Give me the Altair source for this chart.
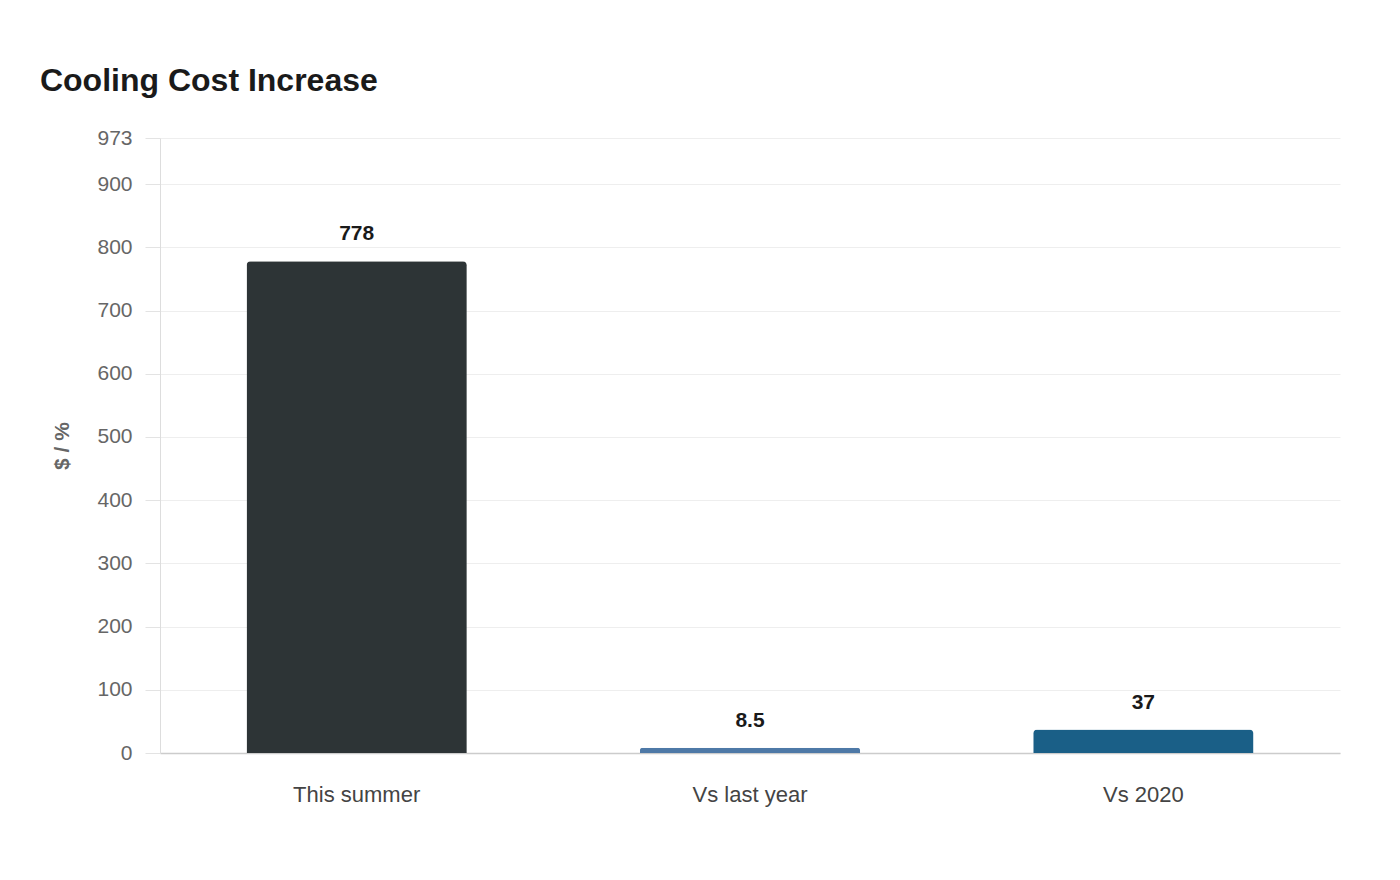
import altair as alt
import pandas as pd

# Cooling cost increase by comparison period
categories = ["This summer", "Vs last year", "Vs 2020"]
values = [778, 8.5, 37]
labels = ["778", "8.5", "37"]
colors = ["#2d3436", "#4e79a7", "#1a5f87"]
y_ticks = [0, 100, 200, 300, 400, 500, 600, 700, 800, 900, 973]

df = pd.DataFrame({"category": categories, "value": values, "label": labels})

FONT = "Liberation Sans"

base = alt.Chart(df).encode(
    x=alt.X(
        "category:N",
        sort=categories,
        title=None,
        scale=alt.Scale(paddingInner=0.44, paddingOuter=0.22),
        axis=alt.Axis(
            labelAngle=0,
            labelFontSize=22,
            labelColor="#444444",
            labelFont=FONT,
            labelPadding=31,
            ticks=False,
            domainColor="#cccccc",
            domainWidth=1.5,
            grid=False,
        ),
    ),
    y=alt.Y(
        "value:Q",
        title="$ / %",
        scale=alt.Scale(domain=[0, 973], nice=False),
        axis=alt.Axis(
            values=y_ticks,
            labelFontSize=21,
            labelColor="#666666",
            labelFont=FONT,
            labelPadding=13,
            tickSize=15,
            tickColor="#e3e3e3",
            domainColor="#dddddd",
            gridColor="#eeeeee",
            titleFont=FONT,
            titleFontSize=21,
            titleFontWeight="bold",
            titleColor="#666666",
            titlePadding=24,
        ),
    ),
)

bars = base.mark_bar(cornerRadiusTopLeft=4, cornerRadiusTopRight=4).encode(
    color=alt.Color("category:N", scale=alt.Scale(domain=categories, range=colors), legend=None)
)

text = base.mark_text(
    baseline="bottom", dy=-17, fontSize=21, fontWeight="bold", font=FONT, color="#1a1a1a"
).encode(text="label:N")

chart = (
    (bars + text)
    .properties(
        width=1180,
        height=615,
        autosize=alt.AutoSizeParams(type="none"),
        padding={"left": 152, "top": 130, "right": 52, "bottom": 100},
        title=alt.TitleParams(
            "Cooling Cost Increase",
            anchor="start",
            dx=-12,
            offset=29,
            font=FONT,
            fontSize=32,
            fontWeight="bold",
            color="#1a1a1a",
        ),
    )
    .configure_view(stroke=None)
)

chart.save("out.html", embed_options={"renderer": "svg", "actions": False})
